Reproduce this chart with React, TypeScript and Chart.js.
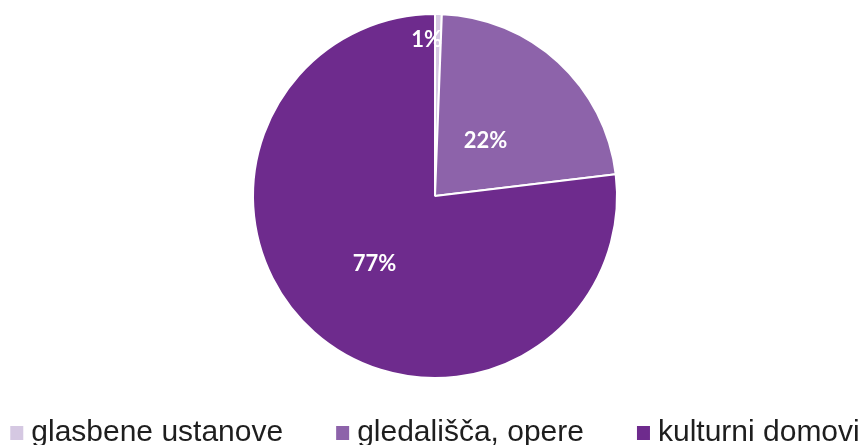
import React, { useEffect, useRef } from "react";
import { Chart, registerables } from "chart.js";

Chart.register(...registerables);

const categories = ["glasbene ustanove", "gledališča, opere", "kulturni domovi"];
const values = [0.6, 22.5, 76.9];
const percentLabels = ["1%", "22%", "77%"];
const colors = ["#d5c8e2", "#8d63aa", "#6e2b8d"];
const labelRadius = [0.86, 0.41, 0.5];

const LEGEND_FONT = "30px 'Liberation Sans', Arial, sans-serif";

const labelPlugin = {
  id: "sliceLabels",
  afterDatasetsDraw(chart: any) {
    const ctx = chart.ctx;
    const meta = chart.getDatasetMeta(0);
    ctx.save();
    ctx.fillStyle = "#ffffff";
    ctx.font = "bold 22px Lato, 'Open Sans', sans-serif";
    ctx.textBaseline = "middle";
    meta.data.forEach((arc: any, i: number) => {
      const p = arc.getProps(["x", "y", "startAngle", "endAngle", "outerRadius"], true);
      const mid = (p.startAngle + p.endAngle) / 2;
      const r = p.outerRadius * labelRadius[i];
      const tx = p.x + Math.cos(mid) * r;
      const ty = p.y + Math.sin(mid) * r;
      if (p.endAngle - p.startAngle < 0.1) {
        ctx.textAlign = "right";
        ctx.fillText(percentLabels[i], tx + 4, ty);
      } else {
        ctx.textAlign = "center";
        ctx.fillText(percentLabels[i], tx, ty);
      }
    });
    ctx.restore();
  },
};

const legendPlugin = {
  id: "bottomLegend",
  afterDraw(chart: any) {
    const ctx = chart.ctx;
    const box = 13;
    const gap = 8;
    const itemGap = 53;
    ctx.save();
    ctx.font = LEGEND_FONT;
    const widths = categories.map((c) => box + gap + ctx.measureText(c).width);
    const total = widths.reduce((a, b) => a + b, 0) + itemGap * (categories.length - 1);
    const cx = (chart.chartArea.left + chart.chartArea.right) / 2;
    let x = cx - total / 2;
    const baseline = chart.chartArea.bottom + 62;
    ctx.textBaseline = "alphabetic";
    ctx.textAlign = "left";
    categories.forEach((c, i) => {
      ctx.fillStyle = colors[i];
      ctx.fillRect(x, baseline - 15, box, 14);
      ctx.fillStyle = "#1e1e1e";
      ctx.fillText(c, x + box + gap, baseline);
      x += widths[i] + itemGap;
    });
    ctx.restore();
  },
};

export default function App() {
  const ref = useRef<HTMLCanvasElement>(null);
  useEffect(() => {
    const chart = new Chart(ref.current!, {
      type: "pie",
      data: {
        labels: categories,
        datasets: [
          {
            data: values,
            backgroundColor: colors,
            borderColor: "#ffffff",
            borderWidth: 2,
          },
        ],
      },
      options: {
        animation: false,
        responsive: false,
        events: [],
        layout: { padding: { top: 13, left: 4, right: 0, bottom: 81 } },
        plugins: {
          tooltip: { enabled: false },
          legend: { display: false },
        },
      },
      plugins: [labelPlugin, legendPlugin],
    });
    return () => chart.destroy();
  }, []);
  return (
    <div style={{ position: "absolute", left: 0, top: 0, width: 866, height: 460, overflow: "hidden", background: "#fff" }}>
      <canvas ref={ref} width={866} height={460} style={{ width: 866, height: 460 }} />
    </div>
  );
}
